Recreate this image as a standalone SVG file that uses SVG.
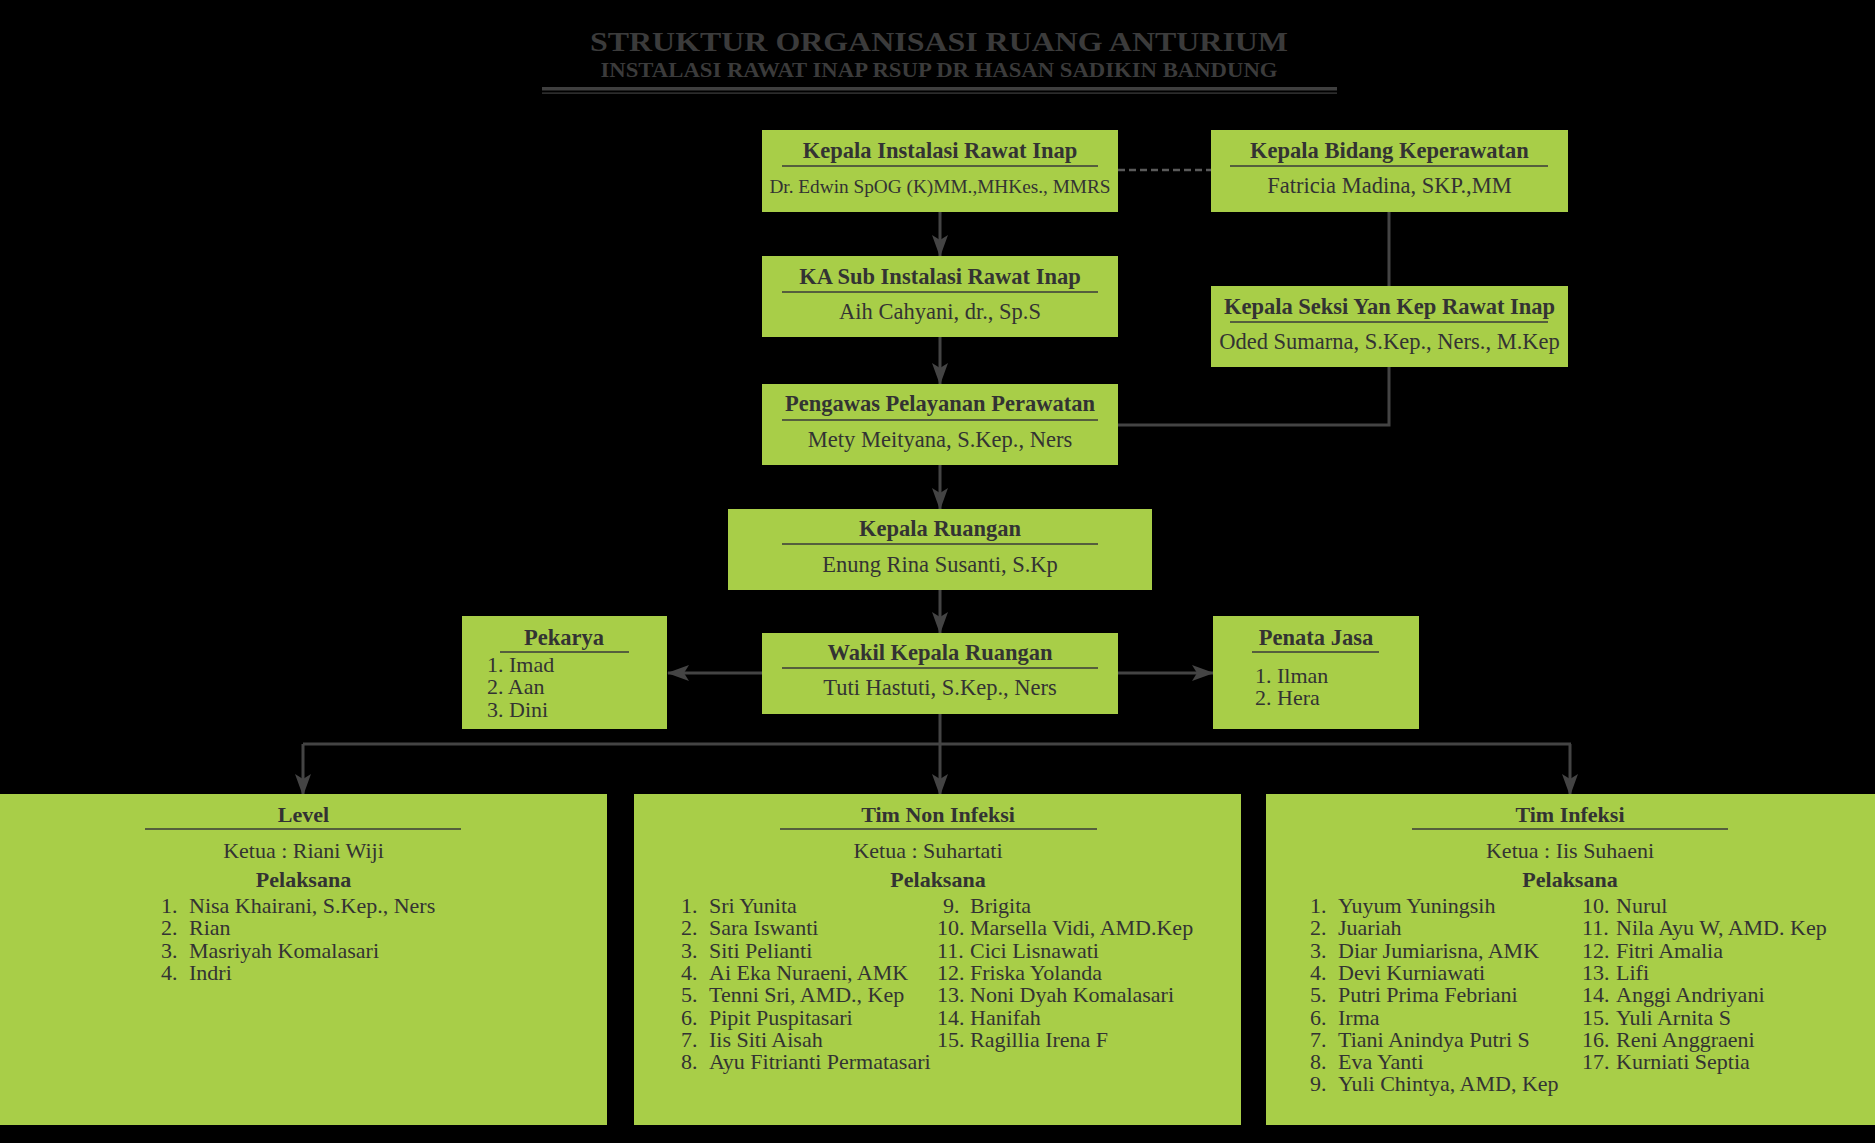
<svg xmlns="http://www.w3.org/2000/svg" width="1875" height="1143" viewBox="0 0 1875 1143">
<style>
text{font-family:"Liberation Serif","Times New Roman",serif;fill:#333;}
.box{fill:#A8CE48;}
.t{font-size:22.5px;font-weight:bold;text-anchor:middle;}
.s{font-size:22.5px;text-anchor:middle;}
.l{font-size:22px;}
.lc{font-size:22px;text-anchor:middle;}
.lb{font-size:22px;font-weight:bold;text-anchor:middle;}
.ul{stroke:#3a3a3a;stroke-width:1.6;}
.con{stroke:#444;stroke-width:3;fill:none;}
.arr{marker-end:url(#ah);}
.head{fill:#3b3b3b;font-weight:bold;text-anchor:middle;}
</style>
<defs>
<marker id="ah" viewBox="0 0 22 16" refX="21" refY="8" markerWidth="22" markerHeight="16" markerUnits="userSpaceOnUse" orient="auto">
<path d="M0,0 L22,8 L0,16 L5,8 Z" fill="#444"/>
</marker>
</defs>
<rect x="0" y="0" width="1875" height="1143" fill="#000"/>

<g id="title">
<text class="head" x="939" y="51" style="font-size:28px" textLength="698" lengthAdjust="spacingAndGlyphs">STRUKTUR ORGANISASI RUANG ANTURIUM</text>
<text class="head" x="939" y="77" style="font-size:20.5px" textLength="677" lengthAdjust="spacingAndGlyphs">INSTALASI RAWAT INAP RSUP DR HASAN SADIKIN BANDUNG</text>
<rect x="542" y="87" width="795" height="3.5" fill="#3f3f3f"/>
<rect x="542" y="92.5" width="795" height="1.2" fill="#3f3f3f"/>
</g>

<g id="connectors">
<path class="con" d="M1118,170 H1211" stroke-dasharray="7,4" style="stroke:#5a5a5a;stroke-width:2.5"/>
<path class="con" d="M1389,212 V286"/>
<path class="con" d="M1389,367 V425 H1118"/>
<path class="con arr" d="M940,212 V256"/>
<path class="con arr" d="M940,337 V384"/>
<path class="con arr" d="M940,465 V509"/>
<path class="con arr" d="M940,590 V633"/>
<path class="con arr" d="M762,673 H668"/>
<path class="con arr" d="M1118,673 H1213"/>
<path class="con" d="M940,714 V744 M303,744 H1571"/>
<path class="con arr" d="M303,744 V795"/>
<path class="con arr" d="M940,744 V795"/>
<path class="con arr" d="M1570,744 V795"/>
</g>

<g id="kepala-instalasi">
<rect class="box" x="762" y="130" width="356" height="82"/>
<text class="t" x="940" y="158">Kepala Instalasi Rawat Inap</text>
<line class="ul" x1="782" y1="166" x2="1098" y2="166"/>
<text class="s" x="940" y="193" style="font-size:19.3px">Dr. Edwin SpOG (K)MM.,MHKes., MMRS</text>
</g>

<g id="kepala-bidang">
<rect class="box" x="1211" y="130" width="357" height="82"/>
<text class="t" x="1389.5" y="158">Kepala Bidang Keperawatan</text>
<line class="ul" x1="1230" y1="166" x2="1548" y2="166"/>
<text class="s" x="1389.5" y="193">Fatricia Madina, SKP.,MM</text>
</g>

<g id="ka-sub">
<rect class="box" x="762" y="256" width="356" height="81"/>
<text class="t" x="940" y="284">KA Sub Instalasi Rawat Inap</text>
<line class="ul" x1="782" y1="292" x2="1098" y2="292"/>
<text class="s" x="940" y="319">Aih Cahyani, dr., Sp.S</text>
</g>

<g id="kepala-seksi">
<rect class="box" x="1211" y="286" width="357" height="81"/>
<text class="t" x="1389.5" y="314">Kepala Seksi Yan Kep Rawat Inap</text>
<line class="ul" x1="1230" y1="322" x2="1548" y2="322"/>
<text class="s" x="1389.5" y="349">Oded Sumarna, S.Kep., Ners., M.Kep</text>
</g>

<g id="pengawas">
<rect class="box" x="762" y="384" width="356" height="81"/>
<text class="t" x="940" y="411">Pengawas Pelayanan Perawatan</text>
<line class="ul" x1="782" y1="420" x2="1098" y2="420"/>
<text class="s" x="940" y="447">Mety Meityana, S.Kep., Ners</text>
</g>

<g id="kepala-ruangan">
<rect class="box" x="728" y="509" width="424" height="81"/>
<text class="t" x="940" y="536">Kepala Ruangan</text>
<line class="ul" x1="782" y1="544" x2="1098" y2="544"/>
<text class="s" x="940" y="572">Enung Rina Susanti, S.Kp</text>
</g>

<g id="wakil">
<rect class="box" x="762" y="633" width="356" height="81"/>
<text class="t" x="940" y="660">Wakil Kepala Ruangan</text>
<line class="ul" x1="782" y1="668" x2="1098" y2="668"/>
<text class="s" x="940" y="695">Tuti Hastuti, S.Kep., Ners</text>
</g>

<g id="pekarya">
<rect class="box" x="462" y="616" width="205" height="113"/>
<text class="t" x="564" y="645">Pekarya</text>
<line class="ul" x1="500" y1="652" x2="629" y2="652"/>
<text class="l" x="487" y="672">1. Imad</text>
<text class="l" x="487" y="694">2. Aan</text>
<text class="l" x="487" y="717">3. Dini</text>
</g>

<g id="penata-jasa">
<rect class="box" x="1213" y="616" width="206" height="113"/>
<text class="t" x="1316" y="645">Penata Jasa</text>
<line class="ul" x1="1252" y1="652" x2="1379" y2="652"/>
<text class="l" x="1255" y="683">1. Ilman</text>
<text class="l" x="1255" y="705">2. Hera</text>
</g>

<g id="level">
<rect class="box" x="0" y="794" width="607" height="331"/>
<text class="lb" x="303.5" y="822">Level</text>
<line class="ul" x1="145" y1="829" x2="461" y2="829"/>
<text class="lc" x="303.5" y="858">Ketua : Riani Wiji</text>
<text class="lb" x="303.5" y="887">Pelaksana</text>
<text class="l" x="161" y="913">1.</text><text class="l" x="189" y="913">Nisa Khairani, S.Kep., Ners</text>
<text class="l" x="161" y="935.3">2.</text><text class="l" x="189" y="935.3">Rian</text>
<text class="l" x="161" y="957.6">3.</text><text class="l" x="189" y="957.6">Masriyah Komalasari</text>
<text class="l" x="161" y="979.9">4.</text><text class="l" x="189" y="979.9">Indri</text>
</g>

<g id="tim-non-infeksi">
<rect class="box" x="634" y="794" width="607" height="331"/>
<text class="lb" x="938" y="822">Tim Non Infeksi</text>
<line class="ul" x1="780" y1="829" x2="1097" y2="829"/>
<text class="lc" x="928" y="858">Ketua : Suhartati</text>
<text class="lb" x="938" y="887">Pelaksana</text>
<text class="l" x="681" y="913">1.</text><text class="l" x="709" y="913">Sri Yunita</text>
<text class="l" x="681" y="935.3">2.</text><text class="l" x="709" y="935.3">Sara Iswanti</text>
<text class="l" x="681" y="957.6">3.</text><text class="l" x="709" y="957.6">Siti Pelianti</text>
<text class="l" x="681" y="979.9">4.</text><text class="l" x="709" y="979.9">Ai Eka Nuraeni, AMK</text>
<text class="l" x="681" y="1002.2">5.</text><text class="l" x="709" y="1002.2">Tenni Sri, AMD., Kep</text>
<text class="l" x="681" y="1024.5">6.</text><text class="l" x="709" y="1024.5">Pipit Puspitasari</text>
<text class="l" x="681" y="1046.8">7.</text><text class="l" x="709" y="1046.8">Iis Siti Aisah</text>
<text class="l" x="681" y="1069.1">8.</text><text class="l" x="709" y="1069.1">Ayu Fitrianti Permatasari</text>
<text class="l" x="943" y="913">9.</text><text class="l" x="970" y="913">Brigita</text>
<text class="l" x="937" y="935.3">10.</text><text class="l" x="970" y="935.3">Marsella Vidi, AMD.Kep</text>
<text class="l" x="937" y="957.6">11.</text><text class="l" x="970" y="957.6">Cici Lisnawati</text>
<text class="l" x="937" y="979.9">12.</text><text class="l" x="970" y="979.9">Friska Yolanda</text>
<text class="l" x="937" y="1002.2">13.</text><text class="l" x="970" y="1002.2">Noni Dyah Komalasari</text>
<text class="l" x="937" y="1024.5">14.</text><text class="l" x="970" y="1024.5">Hanifah</text>
<text class="l" x="937" y="1046.8">15.</text><text class="l" x="970" y="1046.8">Ragillia Irena F</text>
</g>

<g id="tim-infeksi">
<rect class="box" x="1266" y="794" width="609" height="331"/>
<text class="lb" x="1570" y="822">Tim Infeksi</text>
<line class="ul" x1="1412" y1="829" x2="1728" y2="829"/>
<text class="lc" x="1570" y="858">Ketua : Iis Suhaeni</text>
<text class="lb" x="1570" y="887">Pelaksana</text>
<text class="l" x="1310" y="913">1.</text><text class="l" x="1338" y="913">Yuyum Yuningsih</text>
<text class="l" x="1310" y="935.3">2.</text><text class="l" x="1338" y="935.3">Juariah</text>
<text class="l" x="1310" y="957.6">3.</text><text class="l" x="1338" y="957.6">Diar Jumiarisna, AMK</text>
<text class="l" x="1310" y="979.9">4.</text><text class="l" x="1338" y="979.9">Devi Kurniawati</text>
<text class="l" x="1310" y="1002.2">5.</text><text class="l" x="1338" y="1002.2">Putri Prima Febriani</text>
<text class="l" x="1310" y="1024.5">6.</text><text class="l" x="1338" y="1024.5">Irma</text>
<text class="l" x="1310" y="1046.8">7.</text><text class="l" x="1338" y="1046.8">Tiani Anindya Putri S</text>
<text class="l" x="1310" y="1069.1">8.</text><text class="l" x="1338" y="1069.1">Eva Yanti</text>
<text class="l" x="1310" y="1091.4">9.</text><text class="l" x="1338" y="1091.4">Yuli Chintya, AMD, Kep</text>
<text class="l" x="1582" y="913">10.</text><text class="l" x="1616" y="913">Nurul</text>
<text class="l" x="1582" y="935.3">11.</text><text class="l" x="1616" y="935.3">Nila Ayu W, AMD. Kep</text>
<text class="l" x="1582" y="957.6">12.</text><text class="l" x="1616" y="957.6">Fitri Amalia</text>
<text class="l" x="1582" y="979.9">13.</text><text class="l" x="1616" y="979.9">Lifi</text>
<text class="l" x="1582" y="1002.2">14.</text><text class="l" x="1616" y="1002.2">Anggi Andriyani</text>
<text class="l" x="1582" y="1024.5">15.</text><text class="l" x="1616" y="1024.5">Yuli Arnita S</text>
<text class="l" x="1582" y="1046.8">16.</text><text class="l" x="1616" y="1046.8">Reni Anggraeni</text>
<text class="l" x="1582" y="1069.1">17.</text><text class="l" x="1616" y="1069.1">Kurniati Septia</text>
</g>
</svg>
